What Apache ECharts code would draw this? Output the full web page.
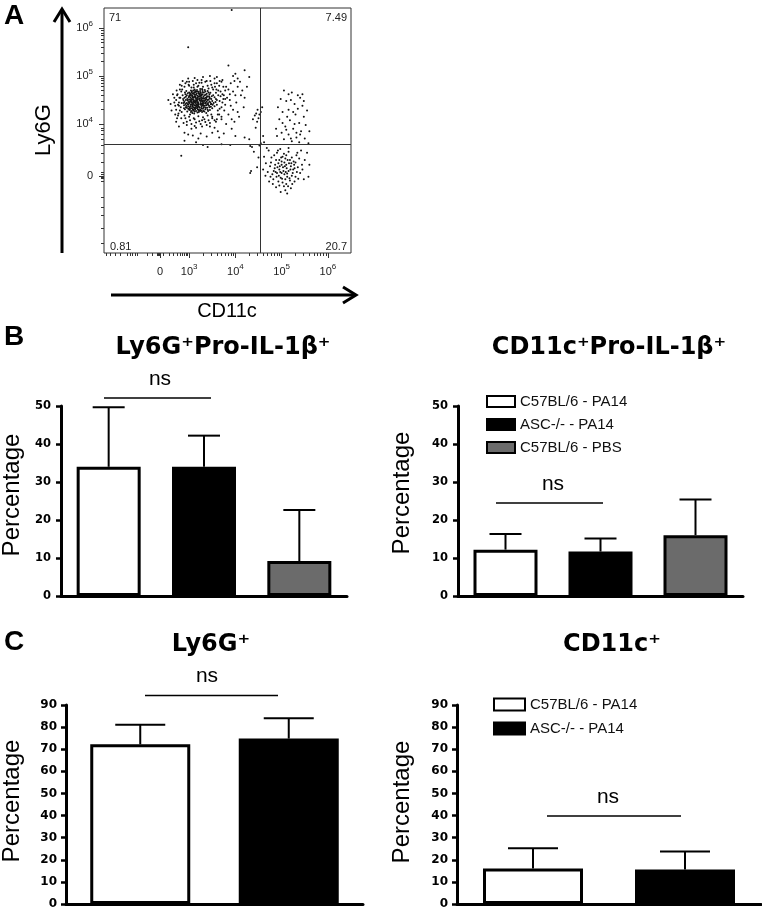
<!DOCTYPE html>
<html><head><meta charset="utf-8">
<script src="https://cdn.jsdelivr.net/npm/echarts@6/dist/echarts.min.js"></script>
<style>html,body{margin:0;padding:0;background:#fff}#main{width:762px;height:909px}</style>
</head><body><div id="main"></div>
<script>
// ---------- DATA ----------
// Panel A: flow cytometry events, [CD11c, Ly6G] in log10 display units (biexponential axis)
const flowEvents = [
[3.19,4.46],[3.05,4.52],[3.28,4.39],[3.12,4.33],[2.98,4.41],[3.36,4.55],[3.22,4.61],[3.08,4.64],[2.93,4.57],[3.41,4.44],
[3.15,4.5],[3.31,4.27],[3.02,4.29],[3.24,4.69],[2.9,4.46],[3.47,4.36],[3.11,4.22],[3.26,4.52],[3.0,4.66],[3.38,4.63],
[3.17,4.38],[2.95,4.34],[3.33,4.48],[3.09,4.42],[3.21,4.25],[3.44,4.56],[3.04,4.59],[3.29,4.71],[2.87,4.52],[3.13,4.58],
[3.35,4.31],[3.18,4.55],[2.97,4.49],[3.25,4.44],[3.07,4.36],[3.4,4.69],[3.16,4.68],[3.3,4.41],[3.01,4.44],[3.23,4.34],
[3.5,4.48],[2.92,4.62],[3.1,4.5],[3.37,4.23],[3.2,4.57],[3.06,4.27],[3.27,4.6],[2.99,4.56],[3.14,4.44],[3.45,4.29],
[3.32,4.66],[3.03,4.37],[3.19,4.31],[3.52,4.6],[2.89,4.39],[3.12,4.72],[3.28,4.47],[3.08,4.55],[3.42,4.51],[3.23,4.49],
[2.96,4.26],[3.15,4.61],[3.34,4.38],[3.05,4.45],[3.21,4.41],[3.48,4.42],[3.1,4.28],[3.26,4.56],[3.0,4.51],[3.39,4.34],
[3.17,4.46],[2.94,4.69],[3.31,4.53],[3.13,4.39],[3.55,4.37],[3.07,4.6],[3.24,4.3],[2.91,4.31],[3.36,4.61],[3.2,4.64],
[3.02,4.33],[3.29,4.43],[3.11,4.57],[3.46,4.65],[3.18,4.35],[2.86,4.6],[3.33,4.26],[3.09,4.47],[3.25,4.65],[3.04,4.7],
[3.41,4.4],[3.15,4.53],[2.98,4.37],[3.3,4.49],[3.22,4.52],[3.06,4.41],[3.58,4.52],[3.12,4.26],[3.38,4.47],[2.95,4.44],
[3.27,4.36],[3.14,4.67],[3.43,4.58],[3.01,4.6],[3.19,4.42],[3.35,4.68],[3.08,4.31],[3.23,4.58],[2.93,4.5],[3.5,4.33],
[3.16,4.49],[3.32,4.35],[3.05,4.48],[3.27,4.28],[3.1,4.63],[2.88,4.44],[3.44,4.47],[3.2,4.37],[3.03,4.55],[3.37,4.52],
[3.13,4.34],[3.29,4.62],[2.97,4.64],[3.18,4.59],[3.53,4.44],[3.07,4.39],[3.25,4.4],[3.4,4.3],[3.11,4.45],
[3.14,4.47],[3.27,4.5],[3.02,4.63],[3.35,4.43],[3.18,4.24],[2.96,4.52],[3.09,4.7],[3.44,4.35],[3.21,4.67],[3.06,4.33],
[3.31,4.57],[2.9,4.55],[3.16,4.41],[3.39,4.58],[3.03,4.4],[3.24,4.27],[3.12,4.61],[3.48,4.52],[2.94,4.38],[3.28,4.73],
[3.1,4.35],[3.36,4.45],[3.19,4.52],[3.0,4.3],[3.42,4.66],[3.15,4.27],[3.26,4.42],[3.05,4.66],[3.33,4.6],[2.92,4.42],
[3.2,4.44],[3.47,4.41],[3.08,4.51],[3.3,4.32],[3.13,4.69],[2.99,4.46],[3.37,4.39],[3.23,4.63],[3.04,4.25],[3.55,4.56],
[3.17,4.33],[3.29,4.54],[2.95,4.6],[3.11,4.39],[3.4,4.5],[3.22,4.28],[3.07,4.57],[3.34,4.71],[3.01,4.35],[3.25,4.48],
[3.14,4.56],[3.46,4.45],[2.88,4.49],[3.19,4.68],[3.32,4.44],[3.09,4.3],[3.27,4.33],[3.03,4.5],[3.38,4.56],[3.16,4.63],
[3.51,4.4],[2.97,4.41],[3.21,4.36],[3.35,4.5],[3.12,4.48],[3.44,4.62],[3.06,4.68],[3.28,4.25],[2.93,4.35],[3.18,4.5],
[3.41,4.27],[3.1,4.55],[3.24,4.73],[3.0,4.58],[3.31,4.38],[3.15,4.36],[3.57,4.46],[2.91,4.66],[3.26,4.62],[3.08,4.44],
[3.36,4.34],[3.2,4.29],[3.04,4.62],[3.45,4.53],[3.13,4.31],[3.29,4.67],[2.98,4.32],[3.33,4.53],[3.17,4.71],[3.39,4.42],
[3.02,4.47],[3.23,4.54],[3.49,4.58],[3.11,4.66],[2.89,4.33],[3.3,4.46],[3.07,4.23],[3.43,4.38],[3.19,4.39],[3.25,4.59],
[2.72,4.5],[2.75,4.62],[2.78,4.38],[2.8,4.28],[2.73,4.7],[2.81,4.55],[2.77,4.22],[2.83,4.68],[2.76,4.4],[2.84,4.44],
[3.6,4.4],[3.63,4.6],[3.66,4.48],[3.7,4.35],[3.62,4.28],[3.74,4.52],[3.68,4.68],[3.65,4.2],[3.72,4.62],[3.59,4.72],
[2.9,4.18],[3.0,4.15],[3.1,4.12],[3.2,4.16],[3.3,4.14],[3.4,4.18],[3.5,4.15],[2.95,4.05],[3.05,4.0],[3.15,4.03],
[3.25,4.0],[3.35,4.04],[3.45,4.02],[3.55,4.08],[2.88,4.02],[3.12,3.96],[3.28,4.08],[3.48,4.2],[3.02,4.2],[3.38,3.98],
[2.9,4.78],[3.0,4.8],[3.1,4.76],[3.2,4.8],[3.3,4.78],[3.4,4.8],[3.5,4.76],[2.95,4.88],[3.08,4.9],[3.22,4.86],
[3.35,4.88],[3.46,4.9],[2.85,4.72],[3.55,4.85],[3.15,4.85],[3.27,4.92],[3.42,4.74],[3.05,4.76],[2.99,4.82],[3.18,4.78],
[2.7,4.2],[2.74,4.12],[3.7,4.15],[3.76,4.28],[3.74,4.78],[2.8,4.82],[3.65,4.8],[2.68,4.45],[3.78,4.4],[3.6,4.1],
[2.6,4.42],[2.68,4.55],[2.72,4.3],[2.65,4.62],[2.76,4.18],[2.8,4.72],[2.78,4.45],[2.74,4.6],[2.83,4.12],[2.84,4.8],
[2.7,4.38],[2.55,4.5],[2.62,4.28],[2.82,4.35],[2.86,4.9],[2.92,4.85],[3.0,4.88],[3.1,4.82],[3.18,4.92],[3.27,4.86],
[3.38,4.9],[3.48,4.82],[3.56,4.78],[3.63,4.7],[3.68,4.58],[3.72,4.45],[3.66,4.32],[3.62,4.2],[3.7,4.1],[3.58,4.05],
[3.5,4.12],[3.42,4.08],[3.33,4.1],[3.22,4.06],[3.12,4.1],[3.02,4.08],[2.92,4.12],[3.28,3.95],[3.15,3.92],[3.05,3.9],
[2.95,3.98],[3.45,3.95],[3.55,3.92],[3.62,3.85],[3.75,3.8],[2.9,3.82],[3.08,3.76],[3.25,3.8],[3.38,3.74],[3.5,3.82],
[3.8,4.0],[3.85,4.2],[3.9,4.38],[3.82,4.55],[3.78,4.7],[3.88,4.62],[3.95,4.3],[4.02,4.45],[4.08,4.15],[4.12,4.6],
[3.98,4.9],[3.7,4.88],[3.6,4.98],[3.45,5.0],[3.3,4.98],[3.12,4.96],[2.98,4.95],[4.18,4.35],[4.25,4.78],[4.05,4.95],
[3.92,3.9],[4.0,3.75],[3.65,3.72],[3.2,3.7],[2.98,3.78],[2.78,3.95],[2.72,4.05],[3.58,4.65],[3.6,4.5],[3.52,4.72],
[2.84,4.25],[2.79,4.55],
[3.6,4.85],[3.72,4.92],[3.8,4.78],[3.9,4.85],[3.95,4.68],[4.05,4.78],[4.1,4.88],[3.75,4.6],[3.85,4.72],[4.15,4.7],
[3.66,4.9],[3.55,4.95],[3.95,5.0],[4.2,4.55],[4.0,4.6],[3.78,4.52],[3.88,4.5],[3.92,4.1],[4.05,4.25],[3.98,4.05],
[2.98,5.6],[3.92,6.38],[2.83,3.34],[3.85,5.22],[4.2,5.12],[4.3,4.98],[4.0,5.05],[4.3,3.68],[4.2,3.72],[3.4,3.52],
[3.15,3.62],[2.9,3.65],[4.38,4.1],[4.42,4.18],[4.47,4.05],[4.44,3.92],[4.4,3.42],[4.34,3.02],[4.52,3.55],[4.36,3.52],
[3.7,3.58],[3.3,3.56],[3.89,3.56],[4.32,3.54],
[4.48,4.3],[4.52,4.2],[4.55,4.25],[4.5,4.12],[4.58,4.35],[4.45,4.22],[4.32,2.98],[4.47,3.1],[4.5,3.3],[4.55,3.6],
[4.6,3.75],[4.62,3.62],
[5.05,4.7],[5.22,4.66],[5.35,4.6],[5.4,4.55],[4.98,4.52],[5.1,4.48],[5.28,4.42],[5.45,4.38],[5.15,4.3],[5.02,4.25],
[5.3,4.2],[5.48,4.15],[4.95,4.1],[5.18,4.08],[5.38,4.02],[5.52,3.98],[5.08,3.95],[5.25,3.9],[5.42,3.85],[5.0,3.82],
[5.15,3.78],[5.32,3.72],[5.5,3.7],[5.05,3.68],[5.22,3.64],[5.38,3.62],[5.58,3.6],[4.9,3.75],[5.12,4.15],[5.35,4.32],
[5.2,4.5],[5.45,4.62],[4.92,4.35],[5.55,4.28],[5.28,4.0],[5.1,3.88],[5.4,3.78],[5.02,4.02],[5.25,4.25],[5.6,3.85],
[4.88,3.9],[5.48,4.48],[5.15,4.62],[5.32,3.82],[5.2,3.7],
[5.03,3.1],[4.95,3.05],[5.1,3.15],[5.0,3.22],[5.15,3.02],[4.9,2.98],[5.06,2.95],[5.2,3.12],[4.98,2.88],[5.12,2.9],
[4.93,3.18],[5.08,3.28],[5.25,3.05],[5.3,3.2],[4.85,3.08],[4.88,3.25],[5.18,2.82],[5.02,2.78],[4.95,2.72],[5.1,2.75],
[4.8,2.95],[4.75,3.12],[4.82,2.85],[5.22,2.92],[5.35,3.1],[5.4,2.98],[5.32,3.35],[5.05,3.38],[4.9,3.4],[5.15,3.42],
[4.97,3.48],[4.78,3.3],[4.7,3.0],[4.66,3.18],[4.72,3.45],[4.88,2.68],[5.08,2.62],[4.98,2.58],[5.2,2.66],[5.12,2.55],
[5.28,2.8],[5.45,3.05],[5.48,2.85],[5.5,3.25],[4.62,3.32],[4.65,2.92],[5.04,3.02],[5.11,3.08],[5.0,2.98],[4.96,3.12],
[5.16,3.18],[5.09,3.0],[5.06,3.2],[4.94,2.92],[5.19,3.05],[4.91,3.1],[5.01,2.86],[5.24,2.98],[5.13,3.25],[4.99,3.3],
[4.86,3.15],[4.83,3.02],[5.27,3.15],[5.33,3.0],[5.38,3.28],[4.77,3.2],[4.73,2.8],[5.42,3.45],[5.55,3.4],[5.6,3.15],
[5.58,2.9],[5.15,3.5],[4.92,3.45],[4.68,3.5],[5.22,3.3],[5.3,2.9],[5.12,2.97],[5.07,3.12],[4.97,3.0],[5.17,2.87],
[4.89,2.9],[5.02,3.32],[5.26,3.22],[4.84,3.35],[5.36,2.86],[5.14,2.7],[4.93,2.8],[5.05,2.7],[4.81,2.75],[5.23,2.75],
[4.76,2.9],[5.34,3.4],[4.6,3.05],[5.44,3.15],[5.1,3.35],[4.87,3.0],[5.0,3.15],[5.08,2.85],[5.18,3.25],[4.95,3.25],
[5.21,3.18],[5.28,3.08]
];
const gateCD11c = 4.53;      // vertical quadrant gate
const gateLy6G = 3.58;       // horizontal quadrant gate
const quadrantLabels = ['71', '7.49', '0.81', '20.7']; // UL, UR, LL, LR
const xTickValues = [2.37, 3, 4, 5, 6];
const xTickLabels = ['{n|0}', '{n|10}{s|3}', '{n|10}{s|4}', '{n|10}{s|5}', '{n|10}{s|6}'];
const yTickValues = [2.92, 4, 5, 6];
const yTickLabels = ['{n|0}', '{n|10}{s|4}', '{n|10}{s|5}', '{n|10}{s|6}'];

// Panels B and C
const groupNames = ['C57BL/6 - PA14', 'ASC-/- - PA14', 'C57BL/6 - PBS'];
const groupColors = ['#ffffff', '#000000', '#6b6b6b'];
const ly6gProIL1bMean = [34.0, 34.0, 9.2];
const ly6gProIL1bErr  = [15.7, 8.2, 13.4];
const cd11cProIL1bMean = [12.2, 11.7, 16.0];
const cd11cProIL1bErr  = [4.1, 3.4, 9.4];
const ly6gMean = [72.2, 74.8];
const ly6gErr  = [8.9, 9.2];
const cd11cMean = [16.1, 15.6];
const cd11cErr  = [9.1, 8.2];
const yTicksB = [0, 10, 20, 30, 40, 50];
const yTicksC = [0, 10, 20, 30, 40, 50, 60, 70, 80, 90];

// ---------- CHART ----------
const FONT = '"Liberation Sans", Arial, Helvetica, sans-serif';
const BOLD = '"DejaVu Sans", "Liberation Sans", sans-serif';
const chart = echarts.init(document.getElementById('main'));

function lookup(vals, labels) {
  return v => { const i = vals.findIndex(t => Math.abs(t - v) < 1e-6); return i >= 0 ? labels[i] : ''; };
}
const supRich = {
  n:{fontSize:11, lineHeight:17, fontFamily:FONT, color:'#222'},
  s:{fontSize:8, lineHeight:9, verticalAlign:'top', fontFamily:FONT, color:'#222'}
};
const log10 = Math.log10;
const xMinor = [1.21,1.3,1.4,1.51,1.66,1.72,1.78,1.83,1.88,2.09,2.2,2.31,2.33,2.35,2.44,2.56,2.66,2.74,2.8,2.86,2.9,2.94,2.97];
const yMinor = [1.52,1.83,2.1,2.27,2.48,2.8,2.86,2.88,2.96,3.0,3.2,3.4,3.55,3.68,3.78,3.86,3.92];
[3,4,5].forEach(d => { for (let k = 2; k <= 9; k++) xMinor.push(d + log10(k)); });
[4,5].forEach(d => { for (let k = 2; k <= 9; k++) yMinor.push(d + log10(k)); });

const grids = [
  {left:104, top:8, width:247, height:245, show:true, borderColor:'#333', borderWidth:1, backgroundColor:'transparent'},
  {left:61, top:406, width:286, height:190},
  {left:458, top:406, width:285, height:190},
  {left:66, top:705, width:297, height:199},
  {left:457, top:705, width:304, height:199},
  {left:104, top:8, width:247, height:245}
].map(g => Object.assign({outerBoundsMode:'none', containLabel:false}, g));

const xAxes = [
  {type:'value', gridIndex:0, min:1.16, max:6.5, axisLine:{show:false},
   axisTick:{show:true, customValues:xTickValues, length:5, lineStyle:{color:'#333', width:1}},
   axisLabel:{customValues:xTickValues, formatter:lookup(xTickValues, xTickLabels), rich:supRich, margin:10},
   splitLine:{show:false}},
  {type:'value', gridIndex:5, min:1.16, max:6.5, axisLine:{show:false},
   axisTick:{show:true, customValues:xMinor, length:3, lineStyle:{color:'#333', width:1}},
   axisLabel:{show:false}, splitLine:{show:false}}
];
const yAxes = [
  {type:'value', gridIndex:0, min:1.31, max:6.42, axisLine:{show:false},
   axisTick:{show:true, customValues:yTickValues, length:5, lineStyle:{color:'#333', width:1}},
   axisLabel:{customValues:yTickValues, formatter:lookup(yTickValues, yTickLabels), rich:supRich, margin:11},
   splitLine:{show:false}},
  {type:'value', gridIndex:5, min:1.31, max:6.42, axisLine:{show:false},
   axisTick:{show:true, customValues:yMinor, length:3, lineStyle:{color:'#333', width:1}},
   axisLabel:{show:false}, splitLine:{show:false}}
];

function addBarAxes(grid, cats, ticks, fs, margin) {
  xAxes.push({type:'category', gridIndex:grid, data:cats,
    axisLine:{show:true, onZero:true, lineStyle:{color:'#000', width:3}},
    axisTick:{show:false}, axisLabel:{show:false}, splitLine:{show:false}});
  yAxes.push({type:'value', gridIndex:grid, min:ticks[0], max:ticks[ticks.length-1], interval:ticks[1]-ticks[0],
    axisLine:{show:true, lineStyle:{color:'#000', width:3}},
    axisTick:{show:true, length:5, lineStyle:{color:'#000', width:2.5}},
    axisLabel:{color:'#000', fontFamily:BOLD, fontWeight:'bold', fontSize:fs, margin:margin},
    splitLine:{show:false}});
}
addBarAxes(1, groupNames, yTicksB, 11.5, 10);
addBarAxes(2, groupNames, yTicksB, 11.5, 10);
addBarAxes(3, groupNames.slice(0,2), yTicksC, 12, 9);
addBarAxes(4, groupNames.slice(0,2), yTicksC, 12, 9);

const series = [
  {type:'scatter', xAxisIndex:0, yAxisIndex:0, data:flowEvents, symbol:'circle', symbolSize:2,
   itemStyle:{color:'#111', opacity:1}, silent:true, z:2,
   markLine:{silent:true, symbol:['none','none'], animation:false, label:{show:false},
     lineStyle:{color:'#333', width:1, type:'solid'},
     data:[{xAxis:gateCD11c}, {yAxis:gateLy6G}]}},
  {type:'scatter', xAxisIndex:1, yAxisIndex:1, data:[], silent:true}
];

function addBars(axisIdx, means, errs, barW) {
  means.forEach((m, i) => {
    series.push({type:'bar', name:groupNames[i], xAxisIndex:axisIdx, yAxisIndex:axisIdx,
      data: means.map((v, j) => j === i ? v : '-'),
      barWidth:barW, barGap:'-100%', silent:true, z:2,
      itemStyle:{color:groupColors[i], borderColor:'#000', borderWidth:3}});
  });
  series.push({type:'custom', xAxisIndex:axisIdx, yAxisIndex:axisIdx, silent:true, z:3,
    encode:{x:0, y:[1,2]},
    data: means.map((m, j) => [j, m, m + errs[j]]),
    renderItem: (params, api) => {
      const lo = api.coord([api.value(0), api.value(1)]);
      const hi = api.coord([api.value(0), api.value(2)]);
      const half = barW * 0.25;
      return {type:'group', children:[
        {type:'line', shape:{x1:lo[0], y1:lo[1], x2:hi[0], y2:hi[1]}, style:{stroke:'#000', lineWidth:2}},
        {type:'line', shape:{x1:hi[0]-half, y1:hi[1], x2:hi[0]+half, y2:hi[1]}, style:{stroke:'#000', lineWidth:2}}
      ]};
    }});
}
addBars(2, ly6gProIL1bMean, ly6gProIL1bErr, 64);
addBars(3, cd11cProIL1bMean, cd11cProIL1bErr, 64);
addBars(4, ly6gMean, ly6gErr, 100);
addBars(5, cd11cMean, cd11cErr, 100);

function txt(x, y, text, opt) {
  return Object.assign({type:'text', x:x, y:y, silent:true,
    style:Object.assign({text:text, fill:'#000', fontFamily:FONT, fontSize:12, align:'center', verticalAlign:'middle'}, opt.style || {})},
    opt.rotation ? {rotation:opt.rotation} : {});
}
function hline(x1, x2, y, w) {
  return {type:'line', silent:true, shape:{x1:x1, y1:y, x2:x2, y2:y}, style:{stroke:'#000', lineWidth:w}};
}
const graphics = [
  // panel letters
  txt(14, 16, 'A', {style:{fontSize:28, fontWeight:'bold'}}),
  txt(14, 337, 'B', {style:{fontSize:28, fontWeight:'bold'}}),
  txt(14, 642, 'C', {style:{fontSize:28, fontWeight:'bold'}}),
  // panel A axes arrows
  {type:'polyline', silent:true, shape:{points:[[62,253],[62,10]]}, style:{stroke:'#000', lineWidth:3, fill:null}},
  {type:'polyline', silent:true, shape:{points:[[54,22],[62,9],[70,22]]}, style:{stroke:'#000', lineWidth:3, fill:null}},
  {type:'polyline', silent:true, shape:{points:[[111,295],[355,295]]}, style:{stroke:'#000', lineWidth:3, fill:null}},
  {type:'polyline', silent:true, shape:{points:[[343,287],[356,295],[343,303]]}, style:{stroke:'#000', lineWidth:3, fill:null}},
  txt(44, 130, 'Ly6G', {rotation:Math.PI/2, style:{fontSize:22}}),
  txt(227, 311.5, 'CD11c', {style:{fontSize:20}}),
  // quadrant percentages
  txt(109, 17.5, quadrantLabels[0], {style:{fontSize:11, align:'left', fill:'#222'}}),
  txt(347, 17.5, quadrantLabels[1], {style:{fontSize:11, align:'right', fill:'#222'}}),
  txt(110, 247, quadrantLabels[2], {style:{fontSize:11, align:'left', fill:'#222'}}),
  txt(347, 247, quadrantLabels[3], {style:{fontSize:11, align:'right', fill:'#222'}}),
  // titles
  txt(223, 348, 'Ly6G⁺Pro-IL-1β⁺', {style:{fontSize:24, fontWeight:'bold', fontFamily:BOLD}}),
  txt(609, 348, 'CD11c⁺Pro-IL-1β⁺', {style:{fontSize:24, fontWeight:'bold', fontFamily:BOLD}}),
  txt(211, 645, 'Ly6G⁺', {style:{fontSize:24, fontWeight:'bold', fontFamily:BOLD}}),
  txt(612, 645, 'CD11c⁺', {style:{fontSize:24, fontWeight:'bold', fontFamily:BOLD}}),
  // y-axis names
  txt(12, 495, 'Percentage', {rotation:Math.PI/2, style:{fontSize:24}}),
  txt(402, 493, 'Percentage', {rotation:Math.PI/2, style:{fontSize:24}}),
  txt(12, 801, 'Percentage', {rotation:Math.PI/2, style:{fontSize:24}}),
  txt(402, 802, 'Percentage', {rotation:Math.PI/2, style:{fontSize:24}}),
  // significance annotations
  hline(104, 211, 398, 1.5), txt(160, 379, 'ns', {style:{fontSize:21}}),
  hline(496, 603, 503, 1.5), txt(553, 484, 'ns', {style:{fontSize:21}}),
  hline(145, 278, 695.5, 1.5), txt(207, 676, 'ns', {style:{fontSize:21}}),
  hline(547, 681, 816, 1.5), txt(608, 797, 'ns', {style:{fontSize:21}})
];

const legendCommon = {orient:'vertical', icon:'rect', selectedMode:false, padding:0,
  itemStyle:{borderColor:'#000', borderWidth:2},
  textStyle:{fontFamily:FONT, fontSize:15, color:'#111'}};

chart.setOption({
  animation:false,
  backgroundColor:'#fff',
  grid:grids,
  xAxis:xAxes,
  yAxis:yAxes,
  legend:[
    Object.assign({data:groupNames, left:486, top:394, itemWidth:28, itemHeight:11, itemGap:8}, legendCommon),
    Object.assign({data:groupNames.slice(0,2), left:493, top:697, itemWidth:31, itemHeight:12, itemGap:9}, legendCommon)
  ],
  series:series,
  graphic:graphics
});
</script></body></html>
